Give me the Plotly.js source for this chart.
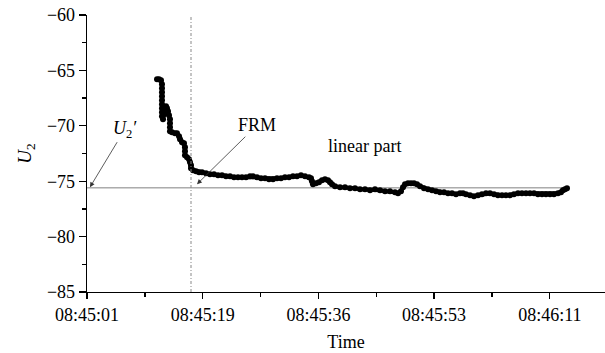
<!DOCTYPE html>
<html>
<head>
<meta charset="utf-8">
<script src="https://cdn.plot.ly/plotly-3.0.1.min.js"></script>
<style>html,body{margin:0;padding:0;background:#fff;}#chart{width:605px;height:353px;}</style>
</head>
<body>
<div id="chart"></div>
<script>
// Time in seconds after 08:45:01
const timeSec = [
  10.59,10.89,11.19,11.34,11.34,11.34,11.34,11.34,11.34,11.34,11.34,11.34,11.50,11.65,11.80,11.95,12.10,12.25,12.40,12.55,12.55,12.55,12.55,12.86,13.31,13.61,13.92,14.07,14.37,14.67,14.82,14.82,14.82,15.13,15.43,15.58,15.73,15.73,16.03,16.49,16.94,
  17.39,18.00,18.60,19.21,19.81,20.42,21.02,21.63,22.23,22.84,23.44,24.05,24.65,25.11,25.71,26.32,26.92,27.53,28.13,28.74,29.34,29.95,30.55,31.16,31.76,32.37,32.97,33.58,33.88,34.03,34.18,34.64,35.09,35.54,36.00,36.45,36.75,37.06,37.51,
  38.27,39.02,39.78,40.54,41.29,42.05,42.80,43.56,44.32,45.07,45.83,46.59,47.04,47.49,47.80,48.10,48.55,49.01,49.46,49.91,50.37,50.97,51.58,52.18,52.79,53.39,54.00,54.60,55.21,55.81,56.42,56.87,57.32,57.93,58.53,59.14,59.74,60.35,60.95,61.56,62.16,62.77,63.37,63.98,64.58,65.19,65.79,66.40,67.00,67.61,68.21,68.82,69.42,70.03,70.63,71.24,71.69,71.99,72.30,72.60
];
const u2 = [
  -65.81,-65.81,-65.90,-66.26,-66.62,-66.98,-67.34,-67.70,-68.06,-68.42,-68.78,-69.14,-69.41,-68.96,-68.51,-68.24,-68.42,-68.69,-69.05,-69.41,-69.77,-70.14,-70.50,-70.59,-70.68,-70.68,-70.95,-71.22,-71.49,-71.58,-71.94,-72.30,-72.66,-72.84,-73.02,-73.29,-73.56,-73.83,-74.01,-74.10,-74.19,
  -74.19,-74.28,-74.37,-74.37,-74.46,-74.46,-74.55,-74.55,-74.64,-74.64,-74.64,-74.64,-74.55,-74.55,-74.64,-74.73,-74.73,-74.82,-74.82,-74.73,-74.73,-74.64,-74.64,-74.55,-74.55,-74.46,-74.55,-74.64,-74.73,-75.00,-75.27,-75.18,-75.09,-74.91,-74.82,-74.91,-75.09,-75.27,-75.45,
  -75.54,-75.54,-75.63,-75.63,-75.72,-75.72,-75.81,-75.72,-75.81,-75.90,-75.90,-75.99,-76.08,-75.90,-75.54,-75.27,-75.18,-75.18,-75.18,-75.27,-75.45,-75.63,-75.72,-75.81,-75.90,-75.99,-75.99,-76.08,-76.08,-76.17,-76.08,-76.08,-76.17,-76.26,-76.35,-76.26,-76.17,-76.08,-76.08,-76.17,-76.26,-76.26,-76.26,-76.26,-76.17,-76.08,-76.08,-76.08,-76.08,-76.08,-76.17,-76.17,-76.17,-76.17,-76.17,-76.08,-75.99,-75.81,-75.72,-75.63
];
const tickVals = [0, 17.5, 35, 52.5, 70];
const tickLabels = ['08:45:01', '08:45:19', '08:45:36', '08:45:53', '08:46:11'];
const minorTickVals = [8.75, 26.25, 43.75, 61.25];
const linearLevel = -75.6;          // U2'
const linearX = [0, 72.6];
const frmTime = 15.73;

const font = 'Liberation Serif, Times New Roman, serif';

const traces = [
  {x: linearX, y: [linearLevel, linearLevel], mode: 'lines', line: {color: '#808080', width: 1}, hoverinfo: 'skip'},
  {x: timeSec, y: u2, mode: 'lines+markers', line: {color: '#000', width: 4}, marker: {color: '#000', size: 6}}
];

const layout = {
  width: 605, height: 353,
  margin: {l: 87, r: 0, t: 15, b: 61},
  paper_bgcolor: '#fff', plot_bgcolor: '#fff',
  showlegend: false,
  font: {family: font, size: 18, color: '#000'},
  xaxis: {
    range: [0, 78.35], showgrid: false, zeroline: false,
    showline: true, linecolor: '#000', linewidth: 1.3,
    ticks: 'outside', ticklen: 6, tickwidth: 1.3, tickcolor: '#000',
    tickmode: 'array', tickvals: tickVals, ticktext: tickLabels,
    minor: {ticks: 'outside', ticklen: 4, tickwidth: 1.3, tickcolor: '#000', tickmode: 'array', tickvals: minorTickVals},
    tickfont: {family: font, size: 18},
    title: {text: 'Time', font: {family: font, size: 18}, standoff: 11}
  },
  yaxis: {
    range: [-85, -60], showgrid: false, zeroline: false,
    showline: true, linecolor: '#000', linewidth: 1.3,
    ticks: 'outside', ticklen: 7, tickwidth: 1.3, tickcolor: '#000',
    tickmode: 'linear', tick0: -85, dtick: 5,
    minor: {ticks: 'outside', ticklen: 4, tickwidth: 1.3, tickcolor: '#000', dtick: 2.5},
    tickfont: {family: font, size: 18},
    title: {text: '<i>U</i><sub>2</sub>', font: {family: font, size: 19}, standoff: 10}
  },
  shapes: [
    {type: 'line', xref: 'x', yref: 'paper', x0: frmTime, x1: frmTime, y0: 0, y1: 1,
     line: {color: '#888', width: 1, dash: '3px,2px,1px,2px'}}
  ],
  annotations: [
    {x: 0.45, y: -75.54, xref: 'x', yref: 'y', text: '<i>U</i><sub>2</sub><i>′</i>',
     showarrow: true, ax: 35, ay: -58,
     arrowhead: 2, arrowsize: 1.2, arrowwidth: 0.8, arrowcolor: '#333', standoff: 0,
     font: {family: font, size: 18}},
    {x: 16.64, y: -75.27, xref: 'x', yref: 'y', text: 'FRM',
     showarrow: true, ax: 60, ay: -59,
     arrowhead: 2, arrowsize: 1.2, arrowwidth: 0.8, arrowcolor: '#333', standoff: 0,
     font: {family: font, size: 18}},
    {x: 41.9, y: -71.8, xref: 'x', yref: 'y', text: 'linear part', showarrow: false,
     font: {family: font, size: 18}}
  ]
};

Plotly.newPlot('chart', traces, layout, {staticPlot: true, displayModeBar: false});
</script>
</body>
</html>
